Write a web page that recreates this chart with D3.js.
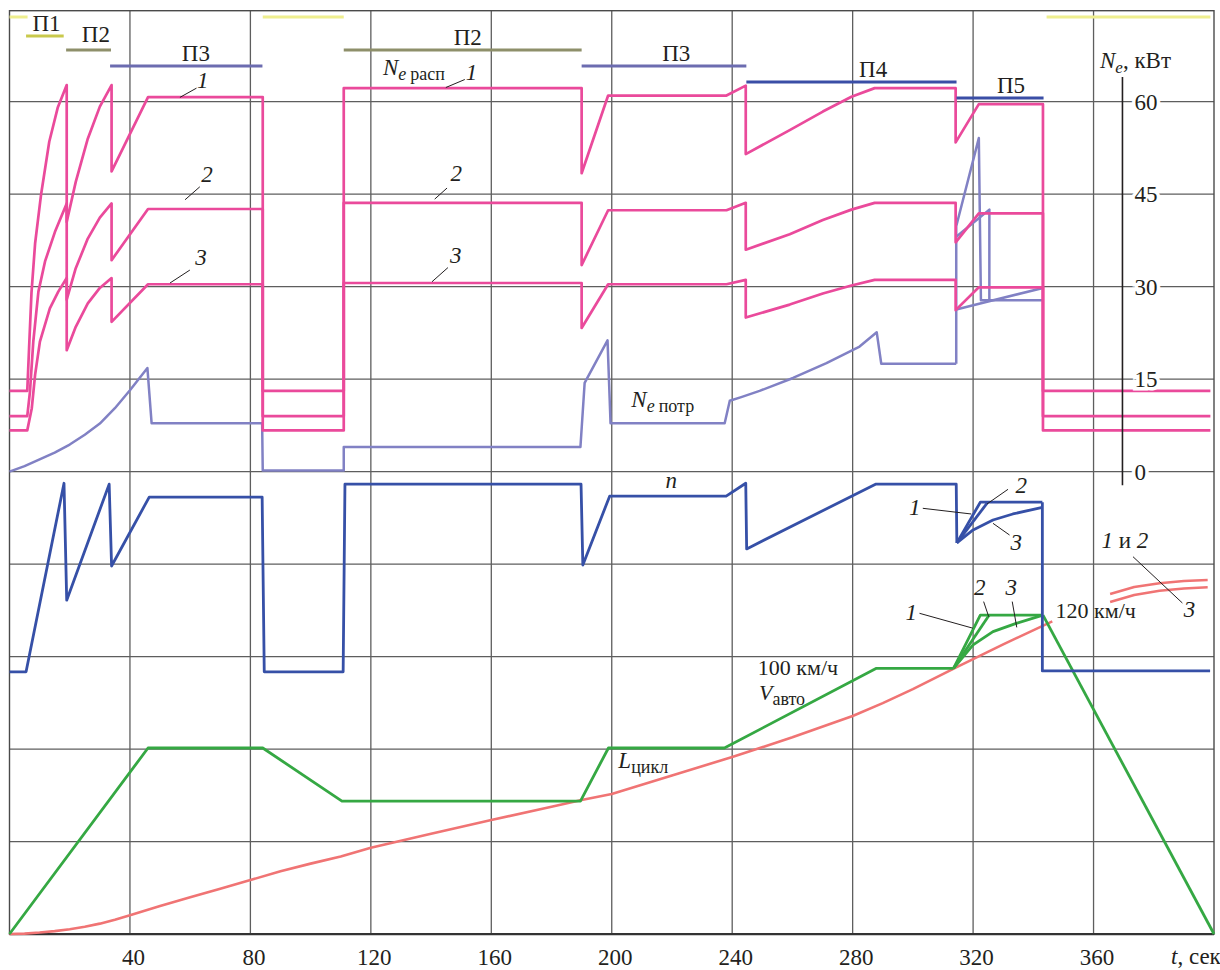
<!DOCTYPE html>
<html>
<head>
<meta charset="utf-8">
<script src="https://cdn.jsdelivr.net/npm/d3@7"></script>
<style>
  body { margin: 0; background: #fff; }
  svg, svg text { font-family: "Liberation Serif", "DejaVu Serif", "Tinos", "Times New Roman", Times, serif; }
  svg text { fill: #231f20; }
</style>
</head>
<body>
<div id="main"></div>
<script>
// ---- data (t in sec) ----
var tTicks = [40, 80, 120, 160, 200, 240, 280, 320, 360];
var neTicks = [0, 15, 30, 45, 60];

// N_e расп, кВт (throttle curves 1, 2, 3)
var neRasp1 = [[0,13.1],[5.9,13.1],[6.5,20],[7.3,29],[8.5,37],[10.5,45],[13.2,53.5],[16,59],[19,62.7],[19,40.5],[22,47],[26,54],[30,59.2],[33.9,62.7],[33.9,48.7],[46,60.75],[84.1,60.75],[84.1,13.1],[111,13.1],[111,62.2],[190,62.2],[190,48.4],[198.8,61],[238.1,61],[244.5,62.6],[244.5,51.5],[259.1,55.4],[270.1,58.4],[279.6,60.8],[287.3,62.2],[314.2,62.2],[314.2,53.4],[321.9,59.6],[343.2,59.6],[343.2,13.1],[398.8,13.1]];
var neRasp2 = [[0,9.0],[5.9,9.0],[6.8,13],[7.9,21.1],[9.6,29.2],[11.8,34.1],[15.1,38.9],[19,43.5],[19,27.9],[22,33],[26,37.8],[30,41.2],[33.9,43.5],[33.9,34.3],[46,42.6],[84.1,42.6],[84.1,9.0],[111,9.0],[111,43.6],[190,43.6],[190,33.5],[198.8,42.4],[238.1,42.4],[244.5,43.6],[244.5,36],[259.1,38.5],[270.1,40.8],[279.6,42.5],[287.3,43.6],[314.2,43.6],[314.2,37.2],[321.9,41.9],[343.2,41.9],[343.2,9.0],[398.8,9.0]];
var neRasp3 = [[0,6.7],[5.9,6.7],[7.4,10.3],[8.5,15.7],[10.1,21.1],[13.4,26.5],[16.2,29.2],[19,31.4],[19,19.7],[22,23.5],[26,27.3],[30,29.8],[33.9,31.4],[33.9,24.3],[46,30.4],[84.1,30.4],[84.1,6.7],[111,6.7],[111,30.6],[190,30.6],[190,23.3],[198.8,30.4],[238.1,30.4],[244.5,31.1],[244.5,25],[259.1,27.1],[270.1,28.9],[279.6,30.2],[287.3,31.1],[314.2,31.1],[314.2,26.2],[321.9,29.9],[343.2,29.9],[343.2,6.7],[398.8,6.7]];

// N_e потр, кВт
var nePotr = [[0,0],[5,0.9],[10,2.0],[15,3.1],[20,4.4],[25,6.0],[30,7.8],[35,10.3],[40,13.2],[45.8,16.8],[47.2,7.85],[83.9,7.85],[84.1,0.2],[111,0.2],[111,4.0],[189.6,4.0],[191,14.4],[198.6,21.3],[199.6,7.85],[237.5,7.85],[239.2,11.5],[243,12.1],[249.1,13.1],[260.2,15.2],[271.3,17.6],[282.3,20.3],[288,22.6],[289.5,17.5],[314.4,17.5]];
var nePotr1 = [[314.4,17.5],[314.4,39.8],[321.9,54.1],[322.6,27.8],[343.2,27.8]];
var nePotr2 = [[314.4,38.1],[325.4,42.5],[325.4,28.0]];
var nePotr3 = [[314.4,26.3],[325,27.6],[343.2,29.8]];

// n, об/мин
var nMain = [[0,1670],[5.5,1670],[18.1,5750],[19,3220],[33.1,5730],[33.9,3960],[46.4,5450],[83.9,5450],[84.6,1670],[110.8,1670],[111.4,5730],[189.8,5730],[190.4,3980],[199.3,5470],[238,5470],[244.5,5750],[244.8,4330],[287.6,5730],[314.4,5730],[314.6,4460]];
var n1 = [[314.6,4460],[322.4,5340],[343,5340]];
var n2 = [[314.6,4460],[324.9,5340]];
var n3 = [[314.6,4460],[320,4740],[326.6,4955],[333.2,5085],[343,5230]];
var nEnd = [[343,5340],[343,1690],[398.7,1690]];

// V авто, км/ч
var vMain = [[0,0],[46,70],[84.1,70],[110.4,50],[189.6,50],[198.9,70],[237.4,70],[287.9,100],[313.5,100]];
var v1 = [[313.5,100],[322.4,120],[343.2,120]];
var v2 = [[313.5,100],[325.3,120]];
var v3 = [[313.5,100],[320,108.8],[326.6,113.8],[334.3,116.9],[343.2,120]];
var vEnd = [[343.2,120],[400,0]];

// L цикл, м
var lCycle = [[0,0],[5,8],[10,30],[15,60],[20,100],[25,150],[30,215],[35,295],[40,390],[50,580],[60,760],[70,940],[80,1120],[90,1300],[100,1460],[110,1610],[120,1790],[140,2080],[160,2365],[180,2640],[190,2780],[200,2905],[220,3290],[240,3672],[260,4080],[280,4523],[290,4790],[300,5080],[314.4,5533],[330,6010],[346.3,6487]];
var lTail12 = [[365.5,7054],[373.5,7199],[381.9,7276],[390,7324],[397.9,7344]];
var lTail3 = [[365.5,6888],[373.5,7033],[381.9,7122],[390,7168],[397.9,7193]];

// phases
var phaseNames = ["П1", "П2", "П3", "П2", "П3", "П4", "П5"];
var phaseStart = [5.5, 18.8, 33.4, 111, 190, 244.7, 314.5];
var phaseEnd = [18, 33.7, 84, 190, 244.7, 314.5, 343.4];
var phaseLabelT = [12.3, 28.7, 61.9, 152.2, 221.4, 286.8, 332.6];
var idleStart = [0, 84.1, 344.4];
var idleEnd = [6, 111, 398.8];

// ---- layout ----
var W = 1220, H = 970;
var FONT = '"Liberation Serif", "DejaVu Serif", "Tinos", "Times New Roman", Times, serif';
var phaseStyle = {
  "П1": { color: "#c9c94c", y: 36 },
  "П2": { color: "#8e8f6a", y: 50 },
  "П3": { color: "#6c6cb0", y: 66 },
  "П4": { color: "#3a4ea6", y: 82 },
  "П5": { color: "#3a4ea6", y: 98 }
};
var idleStyle = { color: "#eeee8e", y: 17 };

var C = {
  rasp: "#ea4a9b",
  potr: "#8181c4",
  n: "#3650a7",
  v: "#35a843",
  l: "#f07474",
  grid: "#5e5e5e"
};

d3.select('#main').selectAll("*").remove();
var svg = d3.select('#main').append('svg').attr('width', W).attr('height', H)
  .attr('font-family', FONT);

var x = d3.scaleLinear().domain([0, 400]).range([9.5, 1214]);
var yNe = d3.scaleLinear().domain([0, 60]).range([471.7, 101.7]);
var yN = d3.scaleLinear().domain([0, 6000]).range([749, 471.7]);
var yV = d3.scaleLinear().domain([0, 100]).range([934, 668.3]);
var yL = d3.scaleLinear().domain([0, 1000]).range([934, 885.8]);

// grid
var grid = svg.append('g');
grid.selectAll('line.h').data(d3.range(-60, 61, 15)).enter().append('line')
  .attr('x1', x(0)).attr('x2', x(400))
  .attr('y1', function(d) { return yNe(d); }).attr('y2', function(d) { return yNe(d); })
  .attr('stroke', C.grid).attr('stroke-width', 1.3);
grid.selectAll('line.v').data(tTicks).enter().append('line')
  .attr('x1', function(d) { return x(d); }).attr('x2', function(d) { return x(d); })
  .attr('y1', 10.7).attr('y2', yNe(-75))
  .attr('stroke', C.grid).attr('stroke-width', 1.3);
grid.append('rect')
  .attr('x', x(0)).attr('y', 10.7).attr('width', x(400) - x(0)).attr('height', yNe(-75) - 10.7)
  .attr('fill', 'none').attr('stroke', "#4a4a4a").attr('stroke-width', 1.4);
grid.append('line')
  .attr('x1', x(0)).attr('x2', x(400)).attr('y1', yNe(-75)).attr('y2', yNe(-75))
  .attr('stroke', "#333").attr('stroke-width', 2.2);

function curve(data, yS, color, w) {
  svg.append('path').datum(data)
    .attr('d', d3.line().x(function(d) { return x(d[0]); }).y(function(d) { return yS(d[1]); }))
    .attr('fill', 'none').attr('stroke', color).attr('stroke-width', w)
    .attr('stroke-linejoin', 'round');
}

// curves
curve(lCycle, yL, C.l, 2.6);
curve(lTail12, yL, C.l, 2.6);
curve(lTail3, yL, C.l, 2.6);
[vMain, v1, v2, v3, vEnd].forEach(function(s) { curve(s, yV, C.v, 2.8); });
[nMain, n1, n2, n3, nEnd].forEach(function(s) { curve(s, yN, C.n, 2.8); });
[nePotr, nePotr1, nePotr2, nePotr3].forEach(function(s) { curve(s, yNe, C.potr, 2.5); });
[neRasp1, neRasp2, neRasp3].forEach(function(s) { curve(s, yNe, C.rasp, 2.7); });

// phase bars
var bars = svg.append('g');
idleStart.forEach(function(t0, i) {
  bars.append('line').attr('x1', x(t0)).attr('x2', x(idleEnd[i]))
    .attr('y1', idleStyle.y).attr('y2', idleStyle.y)
    .attr('stroke', idleStyle.color).attr('stroke-width', 3);
});
phaseNames.forEach(function(name, i) {
  var st = phaseStyle[name];
  bars.append('line').attr('x1', x(phaseStart[i])).attr('x2', x(phaseEnd[i]))
    .attr('y1', st.y).attr('y2', st.y)
    .attr('stroke', st.color).attr('stroke-width', 3);
  bars.append('text').attr('x', x(phaseLabelT[i])).attr('y', st.y - (i == 1 ? 8 : 5))
    .attr('text-anchor', 'middle').attr('font-size', 23).text(name);
});

// right N_e axis
var axR = svg.append('g').attr('transform', 'translate(' + x(369.6) + ',0)');
axR.call(d3.axisRight(yNe).tickValues(neTicks).tickSize(0).tickPadding(12));
axR.attr('font-family', FONT);
axR.select('.domain').remove();
axR.selectAll('text')
  .attr('font-size', 23).attr('fill', '#231f20')
  .attr('stroke', '#fff').attr('stroke-width', 7).attr('paint-order', 'stroke');
axR.append('line').attr('x1', 0).attr('x2', 0).attr('y1', yNe(64)).attr('y2', yNe(-2.2))
  .attr('stroke', '#231f20').attr('stroke-width', 1.6);

var neLab = svg.append('text').attr('x', 1100).attr('y', 68).attr('font-size', 23);
neLab.append('tspan').attr('font-style', 'italic').text('N');
neLab.append('tspan').attr('font-style', 'italic').attr('font-size', 17).attr('dy', 5).text('e');
neLab.append('tspan').attr('dy', -5).text(', кВт');

// bottom time axis
var axB = svg.append('g').attr('transform', 'translate(3,' + yNe(-75) + ')');
axB.call(d3.axisBottom(x).tickValues(tTicks).tickSize(0).tickPadding(14));
axB.attr('font-family', FONT);
axB.select('.domain').remove();
axB.selectAll('text').attr('font-size', 23).attr('fill', '#231f20');
var tLab = svg.append('text').attr('x', 1171).attr('y', 964).attr('font-size', 23);
tLab.append('tspan').attr('font-style', 'italic').text('t');
tLab.append('tspan').text(', сек');

// annotations
function leader(yS, a, b) {
  svg.append('line').attr('x1', x(a[0])).attr('y1', yS(a[1])).attr('x2', x(b[0])).attr('y2', yS(b[1]))
    .attr('stroke', '#231f20').attr('stroke-width', 1);
}
function num(yS, p, s) {
  svg.append('text').attr('x', x(p[0])).attr('y', yS(p[1])).attr('text-anchor', 'middle')
    .attr('font-size', 23).attr('font-style', 'italic').text(s);
}

num(yNe, [64.2, 62.3], '1'); leader(yNe, [56.6, 60.7], [62.1, 62.2]);
num(yNe, [65.6, 46.9], '2'); leader(yNe, [58.3, 44.1], [63.2, 46.2]);
num(yNe, [63.6, 33.6], '3'); leader(yNe, [53.3, 30.6], [59.9, 32.7]);
num(yNe, [153.4, 63.6], '1'); leader(yNe, [144.9, 62.3], [151.2, 63.6]);
num(yNe, [148.4, 47.2], '2'); leader(yNe, [141.2, 44.2], [145.3, 46.0]);
num(yNe, [148.2, 33.9], '3'); leader(yNe, [140.3, 30.8], [145.6, 33.1]);

var rasp = svg.append('text').attr('x', x(124)).attr('y', yNe(64.3)).attr('font-size', 23);
rasp.append('tspan').attr('font-style', 'italic').text('N');
rasp.append('tspan').attr('font-style', 'italic').attr('font-size', 18).attr('dy', 5).text('e');
rasp.append('tspan').attr('font-size', 18).attr('dx', 4).text('расп');

var potr = svg.append('text').attr('x', x(206.5)).attr('y', yNe(10.5)).attr('font-size', 23);
potr.append('tspan').attr('font-style', 'italic').text('N');
potr.append('tspan').attr('font-style', 'italic').attr('font-size', 18).attr('dy', 5).text('e');
potr.append('tspan').attr('font-size', 18).attr('dx', 4).text('потр');

svg.append('text').attr('x', x(219.8)).attr('y', yN(5641)).attr('text-anchor', 'middle')
  .attr('font-size', 23).attr('font-style', 'italic').text('n');
num(yN, [300.6, 5063], '1'); leader(yN, [303.3, 5208], [319.4, 5085]);
num(yN, [336, 5533], '2'); leader(yN, [331.6, 5619], [324.6, 5301]);
num(yN, [334.3, 4306], '3'); leader(yN, [332.1, 4630], [326.6, 4883]);

num(yV, [299.5, 118.2], '1'); leader(yV, [302.2, 120.7], [319.9, 115.1]);
num(yV, [322.2, 127.6], '2'); leader(yV, [323.5, 125.1], [325.2, 119.4]);
num(yV, [332.7, 127.6], '3'); leader(yV, [333, 125.1], [334.5, 115.4]);

svg.append('text').attr('x', x(347.4)).attr('y', yV(118.8)).attr('font-size', 22).text('120 км/ч');
svg.append('text').attr('x', x(248.5)).attr('y', yV(97.6)).attr('font-size', 22).text('100 км/ч');
var vLab = svg.append('text').attr('x', x(248.9)).attr('y', yV(88.0)).attr('font-size', 22);
vLab.append('tspan').attr('font-style', 'italic').text('V');
vLab.append('tspan').attr('font-size', 18).attr('dy', 5).text('авто');
var lLab = svg.append('text').attr('x', x(202.2)).attr('y', yV(62.4)).attr('font-size', 23);
lLab.append('tspan').attr('font-style', 'italic').text('L');
lLab.append('tspan').attr('font-size', 18).attr('dy', 5).text('цикл');

var l12 = svg.append('text').attr('x', x(362.6)).attr('y', yL(8002)).attr('font-size', 23);
l12.append('tspan').attr('font-style', 'italic').text('1');
l12.append('tspan').text(' и ');
l12.append('tspan').attr('font-style', 'italic').text('2');
num(yL, [391.9, 6583], '3');
leader(yL, [373.1, 7828], [389.5, 6867]);
</script>
</body>
</html>
